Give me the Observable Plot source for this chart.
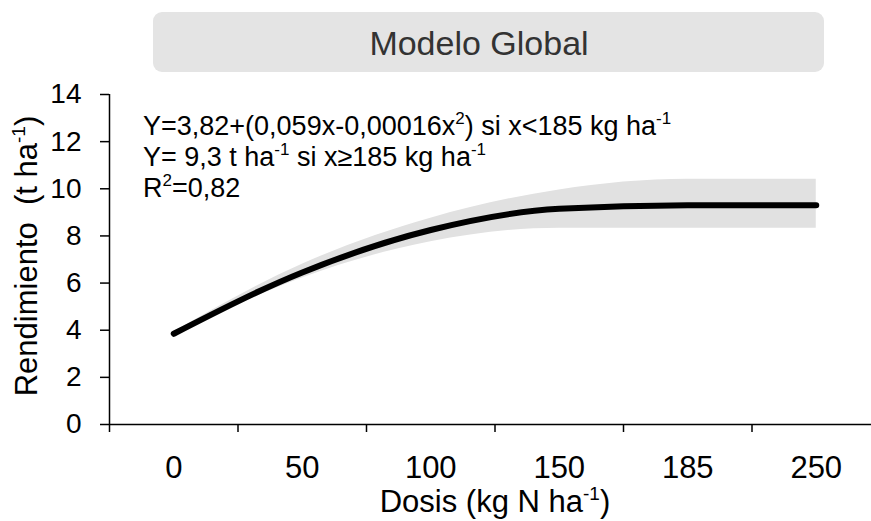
<!DOCTYPE html>
<html><head><meta charset="utf-8">
<script src="https://cdn.jsdelivr.net/npm/d3@7"></script>
<script src="https://cdn.jsdelivr.net/npm/@observablehq/plot@0.6"></script>
<style>
html,body{margin:0;padding:0;background:#fff;}
#chart svg{display:block;}
</style></head><body><div id="chart"></div>
<script>
// Data
const doses = ["0", "50", "100", "150", "185", "250"];          // N dose categories (kg N/ha)
const fitted = [3.85, 6.45, 8.25, 9.15, 9.3, 9.3];             // fitted yield (t/ha)
const lower = [3.78, 6.22, 7.75, 8.33, 8.33, 8.33];            // lower band
const upper = [3.92, 6.8, 8.75, 9.95, 10.4, 10.4];             // upper band
const yTicks = [0, 2, 4, 6, 8, 10, 12, 14];
const titleText = "Modelo Global";

const rows = doses.map((d, i) => ({i, dose: d, fit: fitted[i], lo: lower[i], hi: upper[i]}));
const centers = doses.map((d, i) => i);
const boundaries = doses.map((d, i) => i - 0.5);
const FONT = "'Liberation Sans', Arial, sans-serif";

const chart = Plot.plot({
  width: 871, height: 521,
  marginLeft: 109, marginRight: 0, marginTop: 94, marginBottom: 97,
  style: {fontFamily: FONT, background: "#fff", color: "#000"},
  x: {type: "linear", domain: [-0.5, doses.length - 0.5], range: [109, 880]},
  y: {domain: [0, 14]},
  marks: [
    Plot.areaY(rows, {x: "i", y1: "lo", y2: "hi", fill: "#e1e1e1", curve: "monotone-x"}),
    Plot.line(rows, {x: "i", y: "fit", stroke: "#000", strokeWidth: 6, strokeLinecap: "round", curve: "monotone-x"}),
    Plot.ruleY([0], {stroke: "#000", strokeWidth: 1.5}),
    Plot.ruleX([-0.5], {y1: 0, y2: 14, stroke: "#000", strokeWidth: 1.5}),
    Plot.axisY({ticks: yTicks, tickSize: 9, tickPadding: 19, fontSize: 28, label: null, strokeWidth: 1.5, tickFormat: d => String(d)}),
    Plot.axisX({ticks: boundaries, tickSize: 8, tickFormat: () => "", label: null, strokeWidth: 1.5}),
    Plot.axisX({ticks: centers, tickSize: 0, tickPadding: 31, fontSize: 31, label: null, tickFormat: i => doses[i]})
  ]
});
document.getElementById("chart").appendChild(chart);

const svg = d3.select(chart);
// Title box
svg.append("rect").attr("x", 153).attr("y", 12).attr("width", 671).attr("height", 60)
  .attr("rx", 9).attr("fill", "#e4e4e4");
svg.append("text").attr("x", 479).attr("y", 55).attr("text-anchor", "middle")
  .attr("font-family", FONT).attr("font-size", 34).attr("fill", "#333").text(titleText);

function richText(x, y, size, parts, anchor, transform) {
  const t = svg.append("text").attr("x", x).attr("y", y).attr("font-family", FONT)
    .attr("font-size", size).attr("fill", "#000").attr("text-anchor", anchor || "start");
  if (transform) t.attr("transform", transform);
  const sup = Math.round(size * 0.62), shift = Math.round(size * 0.4);
  let pending = 0;
  parts.forEach(p => {
    if (typeof p === "string") {
      const s = t.append("tspan").text(p);
      if (pending) { s.attr("dy", pending); pending = 0; }
    } else {
      t.append("tspan").attr("font-size", sup).attr("dy", -shift).text(p.sup);
      pending = shift;
    }
  });
  return t;
}
richText(143, 135, 27, ["Y=3,82+(0,059x-0,00016x", {sup: "2"}, ") si x<185 kg ha", {sup: "-1"}]);
richText(143, 166, 27, ["Y= 9,3 t ha", {sup: "-1"}, " si x\u2265185 kg ha", {sup: "-1"}]);
richText(143, 197, 27, ["R", {sup: "2"}, "=0,82"]);
richText(495, 512, 31, ["Dosis (kg N ha", {sup: "-1"}, ")"], "middle");
richText(0, 0, 31, ["Rendimiento\u00A0 (t ha", {sup: "-1"}, ")"], "middle", "translate(37,256) rotate(-90)");
</script></body></html>
